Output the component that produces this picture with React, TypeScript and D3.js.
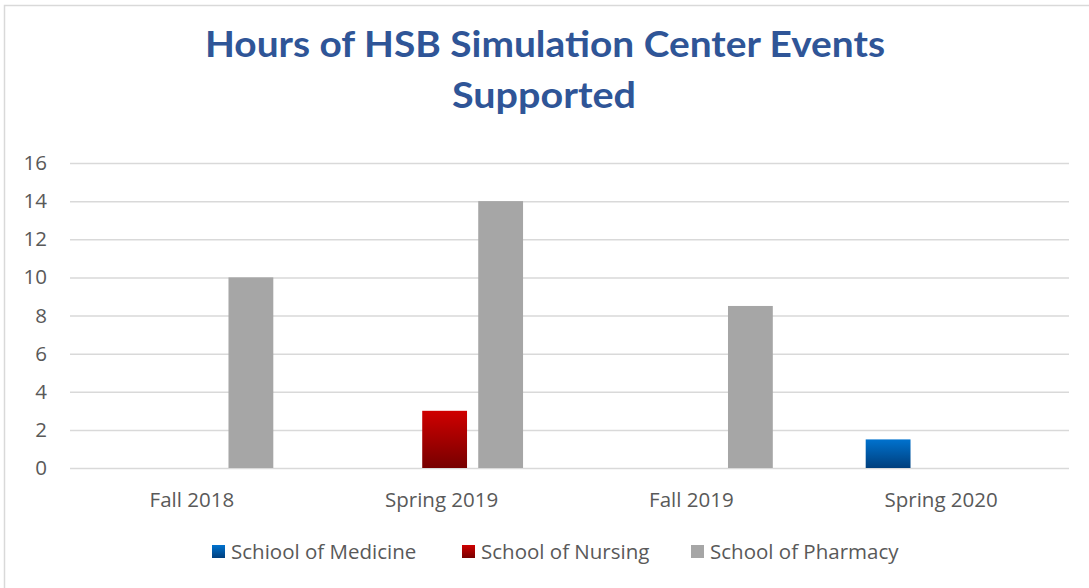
import { useEffect, useMemo, useRef } from "react";
import * as d3 from "d3";

const WIDTH = 1089;
const HEIGHT = 588;
const PLOT = { left: 70, right: 1069, top: 163, bottom: 468 };

const categories = ["Fall 2018", "Spring 2019", "Fall 2019", "Spring 2020"];
const seriesNames = ["Schiool of Medicine", "School of Nursing", "School of Pharmacy"];
const medicine = [0, 0, 0, 1.5];
const nursing = [0, 3, 0, 0];
const pharmacy = [10, 14, 8.5, 0];
const yTicks = [0, 2, 4, 6, 8, 10, 12, 14, 16];

const FILLS = ["url(#gradBlue)", "url(#gradRed)", "#a6a6a6"];
const LEGEND_X = [212, 462, 691];
const TITLE_FONT = "Lato, 'Open Sans', sans-serif";
const FONT = "'Open Sans', Lato, sans-serif";
const FS = 20.5;

const App = () => {
  const axisRef = useRef<SVGGElement>(null);
  const series = [medicine, nursing, pharmacy];

  const x0 = useMemo(
    () =>
      d3.scaleBand().domain(categories).range([PLOT.left, PLOT.right])
        .paddingInner(0.372).paddingOuter(0.186),
    []
  );
  const x1 = useMemo(
    () => d3.scaleBand().domain(seriesNames).range([0, x0.bandwidth()]).paddingInner(0.2),
    [x0]
  );
  const y = useMemo(() => d3.scaleLinear().domain([0, 16]).range([PLOT.bottom, PLOT.top]), []);

  // y axis labels + gridlines drawn with d3
  useEffect(() => {
    const g = d3.select(axisRef.current);
    g.selectAll("*").remove();
    const axis = d3.axisLeft(y).tickValues(yTicks).tickSize(-(PLOT.right - PLOT.left)).tickPadding(23);
    g.call(axis);
    g.select(".domain").remove();
    g.selectAll(".tick line").attr("stroke", "#d9d9d9").attr("stroke-width", 1.5);
    g.selectAll(".tick text")
      .attr("fill", "#595959")
      .attr("font-size", FS)
      .attr("font-family", FONT);
  }, [y]);

  const bars = series.map((vals, s) =>
    vals.map((v, i) =>
      v > 0 ? (
        <rect
          key={s + "_" + i}
          x={(x0(categories[i]) ?? 0) + (x1(seriesNames[s]) ?? 0)}
          width={x1.bandwidth()}
          y={y(v)}
          height={y(0) - y(v)}
          fill={FILLS[s]}
        />
      ) : null
    )
  );

  return (
    <svg width={WIDTH} height={HEIGHT} style={{ position: "absolute", left: 0, top: 0, background: "#fff" }}>
      <defs>
        <linearGradient id="gradBlue" x1="0" y1="0" x2="0" y2="1">
          <stop offset="0" stopColor="#0072ce" />
          <stop offset="1" stopColor="#003f7d" />
        </linearGradient>
        <linearGradient id="gradRed" x1="0" y1="0" x2="0" y2="1">
          <stop offset="0" stopColor="#cf0000" />
          <stop offset="1" stopColor="#770000" />
        </linearGradient>
      </defs>
      <rect x={4.5} y={5.5} width={1100} height={600} fill="#fff" stroke="#d9d9d9" strokeWidth={1.5} />
      <text x={545} y={57} textAnchor="middle" fill="#2f5597" fontFamily={TITLE_FONT} fontWeight="bold"
        fontSize={36} textLength={680} lengthAdjust="spacingAndGlyphs">
        Hours of HSB Simulation Center Events
      </text>
      <text x={544} y={108} textAnchor="middle" fill="#2f5597" fontFamily={TITLE_FONT} fontWeight="bold"
        fontSize={36} textLength={184} lengthAdjust="spacingAndGlyphs">
        Supported
      </text>
      <g ref={axisRef} transform={`translate(${PLOT.left},0)`} />
      {bars}
      {categories.map((c) => (
        <text key={c} x={(x0(c) ?? 0) + x0.bandwidth() / 2 - 3} y={507} textAnchor="middle"
          fill="#595959" fontSize={FS} fontFamily={FONT}>
          {c}
        </text>
      ))}
      {seriesNames.map((n, s) => (
        <g key={n}>
          <rect x={LEGEND_X[s]} y={545} width={13} height={13} fill={FILLS[s]} />
          <text x={LEGEND_X[s] + 19} y={559} fill="#595959" fontSize={FS} fontFamily={FONT}>
            {n}
          </text>
        </g>
      ))}
    </svg>
  );
};

export default App;
